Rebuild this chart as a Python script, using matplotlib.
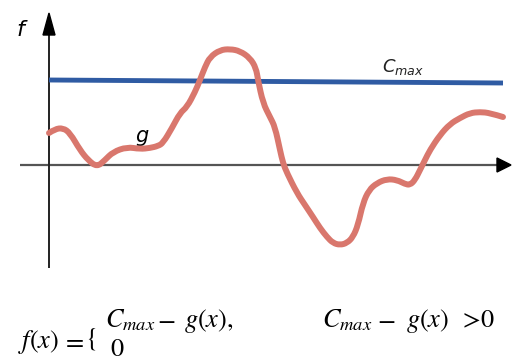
import matplotlib
matplotlib.use("Agg")
import matplotlib.pyplot as plt
from matplotlib.path import Path
from matplotlib.patches import PathPatch
import numpy as np

# Curve g(x): horizontal position and value (origin at the axes crossing)
g_x = [0, 6, 14, 21, 31, 39, 48, 56, 64, 78, 91, 101, 109, 114, 123, 131, 138,
       146, 151, 156, 161, 171, 181, 191, 201, 207, 209, 214, 221, 226, 231, 234,
       238, 248, 256, 264, 271, 278, 284, 291, 298, 304, 309, 314, 320, 328, 338,
       348, 356, 361, 366, 371, 376, 381, 391, 401, 411, 421, 431, 441, 454]
g_y = [32, 36, 37, 32, 15, 5, -2, 5, 13, 18, 16, 17, 19, 22, 37, 52, 58,
       73, 85, 98, 108, 115, 116, 114, 107, 97, 85, 62, 48, 38, 15, 2,
       -8, -28, -40, -52, -63, -72, -78, -80, -78, -72, -60, -38, -25, -18, -14,
       -15, -19, -20, -15, -5, 5, 15, 30, 41, 47, 52, 53, 52, 48]

# Threshold line C_max (start and end)
cmax_x = [0, 454]
cmax_y = [85, 82]

RED = "#d9776d"
BLUE = "#2f5ba3"

fig = plt.figure(figsize=(5.12, 3.61), dpi=100)
ax = fig.add_axes([0, 0, 1, 1])
ax.set_xlim(-49, 463)
ax.set_ylim(-196, 165)
ax.axis("off")

# coordinate axes with arrow heads
ax.plot([-29, 450], [0, 0], color="#555555", lw=1.6, solid_capstyle="butt", zorder=1)
ax.plot([0, 0], [-103, 132], color="#222222", lw=1.4, solid_capstyle="butt", zorder=1)
ax.add_patch(plt.Polygon([[448, 7], [448, -7], [462, 0]], closed=True,
                         color="black", zorder=2))
ax.add_patch(plt.Polygon([[-6, 130], [6, 130], [0, 152]], closed=True,
                         color="black", zorder=2))

# threshold line
ax.plot(cmax_x, cmax_y, color=BLUE, lw=3.5, solid_capstyle="butt", zorder=3)

# curve g drawn as a smooth quadratic-Bezier path through the sampled points
pts = np.column_stack([g_x, g_y]).astype(float)
verts = [pts[0]]
codes = [Path.MOVETO]
n = len(pts)
for i in range(1, n - 1):
    end = pts[i + 1] if i == n - 2 else (pts[i] + pts[i + 1]) / 2
    verts += [pts[i], end]
    codes += [Path.CURVE3, Path.CURVE3]
ax.add_patch(PathPatch(Path(verts, codes), fill=False, edgecolor=RED, lw=4.3,
                       capstyle="round", joinstyle="round", zorder=4))

# labels
ax.text(-29, 135, "f", fontsize=16, style="italic", family="DejaVu Sans",
        ha="center", va="center")
ax.text(93, 29, "g", fontsize=15, style="italic", family="DejaVu Sans",
        ha="center", va="center")
ax.text(354, 98, r"$C_{max}$", fontsize=13, math_fontfamily="dejavusans",
        ha="center", va="center", color="#222222")

# piecewise definition
fs = 19
kw = dict(fontsize=fs, math_fontfamily="stix", va="baseline")
ax.text(-31, -183, r"$f(x)$", ha="left", **kw)
ax.text(24, -183, r"$=$", ha="center", **kw)
ax.text(42, -179, r"$\{$", ha="center", **kw)
ax.text(56, -162, r"$C_{max}$", ha="left", **kw)
ax.text(117, -162, r"$-$", ha="center", **kw)
ax.text(160, -162, r"$g(x),$", ha="center", **kw)
ax.text(68, -191, r"$0$", ha="center", **kw)

ax.text(273, -162, r"$C_{max}$", ha="left", **kw)
ax.text(337, -162, r"$-$", ha="center", **kw)
ax.text(379, -162, r"$g(x)$", ha="center", **kw)
ax.text(421, -162, r"$>$", ha="center", **kw)
ax.text(438, -162, r"$0$", ha="center", **kw)

fig.savefig("out.png", dpi=100, facecolor="white")
